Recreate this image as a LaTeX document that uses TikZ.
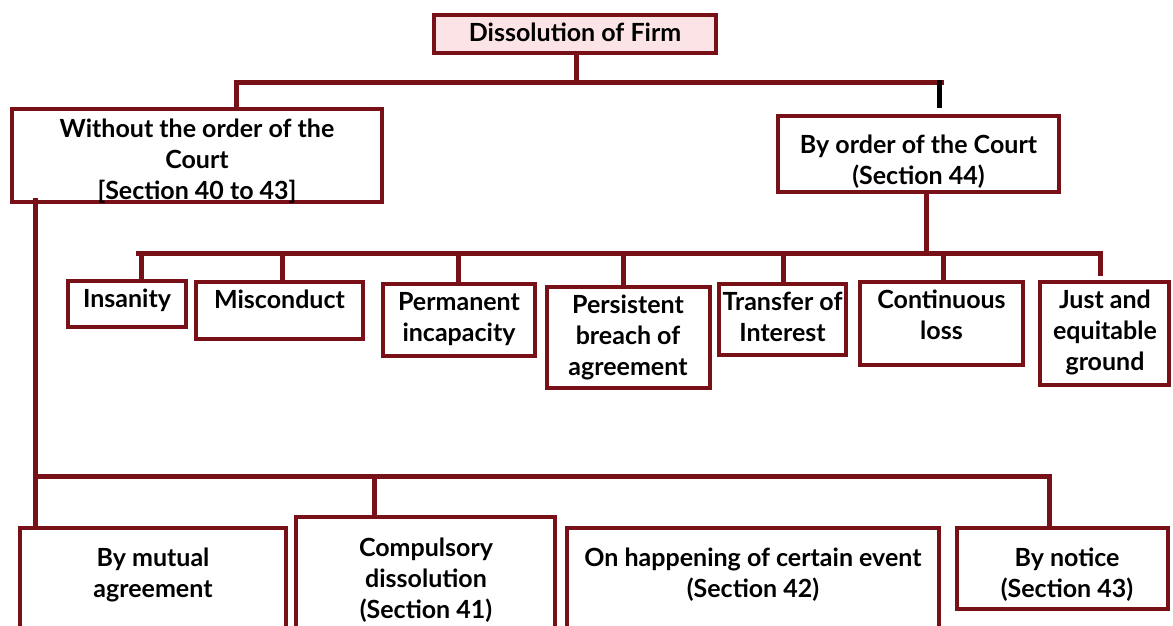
\documentclass[tikz,border=0pt]{standalone}
\usepackage{fontspec}
\setmainfont{Lato}
\definecolor{maroon}{RGB}{120,16,24}
\definecolor{pinkfill}{RGB}{252,228,230}
\newcommand{\mlines}[1]{\begin{tabular}[t]{@{}c@{}}#1\end{tabular}}
\begin{document}
\begin{tikzpicture}[x=1pt,y=-1pt,
  box/.style={draw=maroon,line width=4pt,inner sep=0pt,rectangle},
  conn/.style={draw=maroon,line width=5pt},
  blackconn/.style={draw=black,line width=5pt},
  txt/.style={anchor=base,inner sep=0pt,font=\fontsize{25}{31}\selectfont\bfseries}]
\useasboundingbox (0,0) rectangle (1173,625);
\fill[white] (0,0) rectangle (1173,625);
\clip (0,0) rectangle (1173,625);
% boxes
\node[box,fill=pinkfill,minimum width=282pt,minimum height=38pt] (top) at (575,34) {};
\node[box,minimum width=370pt,minimum height=93pt] (wo) at (197,155.5) {};
\node[box,minimum width=281pt,minimum height=76pt] (court) at (918.5,154) {};
\node[box,minimum width=118pt,minimum height=46pt] (ins) at (127,304) {};
\node[box,minimum width=167pt,minimum height=57pt] (mis) at (279.5,310.5) {};
\node[box,minimum width=152pt,minimum height=72pt] (perm) at (459,320) {};
\node[box,minimum width=163pt,minimum height=101pt] (pers) at (628.5,337.5) {};
\node[box,minimum width=127pt,minimum height=71pt] (trans) at (782.5,319.5) {};
\node[box,minimum width=163pt,minimum height=83pt] (cont) at (941.5,323.5) {};
\node[box,minimum width=129pt,minimum height=103pt] (just) at (1104.5,333.5) {};
\node[box,minimum width=266pt,minimum height=115pt] (mut) at (153,585.5) {};
\node[box,minimum width=259pt,minimum height=126pt] (comp) at (425.5,580) {};
\node[box,minimum width=372pt,minimum height=115pt] (hap) at (753,585.5) {};
\node[box,minimum width=211pt,minimum height=81pt] (notc) at (1062.5,568.5) {};
% texts
\node[txt] (ttop) at (575,41) {Dissolution of Firm};
\node[txt] (two) at (197,137) {\mlines{Without the order of the\\Court\\{}[Section 40 to 43]}};
\node[txt] (tcourt) at (918.5,153) {\mlines{By order of the Court\\(Section 44)}};
\node[txt] (tins) at (127,307) {Insanity};
\node[txt] (tmis) at (279.5,308) {Misconduct};
\node[txt] (tperm) at (459,310) {\mlines{Permanent\\incapacity}};
\node[txt] (tpers) at (628,313) {\mlines{Persistent\\breach of\\agreement}};
\node[txt] (ttrans) at (782.5,310) {\mlines{Transfer of\\Interest}};
\node[txt] (tcont) at (941.5,308) {\mlines{Continuous\\loss}};
\node[txt] (tjust) at (1105,308) {\mlines{Just and\\equitable\\ground}};
\node[txt] (tmut) at (153,566) {\mlines{By mutual\\agreement}};
\node[txt] (tcomp) at (426,556) {\mlines{Compulsory\\dissolution\\(Section 41)}};
\node[txt] (thap) at (753,566) {\mlines{On happening of certain event\\(Section 42)}};
\node[txt] (tnot) at (1067,566) {\mlines{By notice\\(Section 43)}};
% bus coordinates
\coordinate (b1L) at (236,82);
\coordinate (b1R) at (941,82);
\coordinate (bk) at (939,108);
\coordinate (b2L) at (138,253);
\coordinate (b2R) at (1100,253);
\coordinate (jend) at (1100,276);
\coordinate (woL) at (35,198);
\coordinate (b3L) at (35,476);
\coordinate (b3R) at (1049,476);
% connectors
\draw[conn] ([xshift=1pt]top.south) -- ([xshift=1pt]top.south |- b1L);
\draw[conn] ([xshift=-2.5pt]b1L) -- ([xshift=2.5pt]b1R);
\draw[conn] (b1L) -- (b1L |- wo.north);
\draw[blackconn] ([yshift=2.5pt]bk |- b1R) -- (bk);
\draw[conn] ([xshift=7.5pt]court.south) -- ([xshift=7.5pt]court.south |- b2L);
\draw[conn] ([xshift=-2.5pt]b2L) -- ([xshift=2.5pt]b2R);
\draw[conn] ([xshift=14.6pt]ins.north) -- ([xshift=14.6pt]ins.north |- b2L);
\draw[conn] ([xshift=2.5pt]mis.north) -- ([xshift=2.5pt]mis.north |- b2L);
\draw[conn] ([xshift=-1pt]perm.north) -- ([xshift=-1pt]perm.north |- b2L);
\draw[conn] ([xshift=-5pt]pers.north) -- ([xshift=-5pt]pers.north |- b2L);
\draw[conn] ([xshift=1pt]trans.north) -- ([xshift=1pt]trans.north |- b2L);
\draw[conn] ([xshift=1.5pt]cont.north) -- ([xshift=1.5pt]cont.north |- b2L);
\draw[conn] (b2R) -- (jend);
\draw[conn] (woL) -- (woL |- mut.north);
\draw[conn] ([xshift=-2.5pt]b3L) -- ([xshift=2.5pt]b3R);
\draw[conn] ([xshift=-51.5pt]comp.north) -- ([xshift=-51.5pt]comp.north |- b3L);
\draw[conn] (b3R) -- (b3R |- notc.north);
\end{tikzpicture}
\end{document}
